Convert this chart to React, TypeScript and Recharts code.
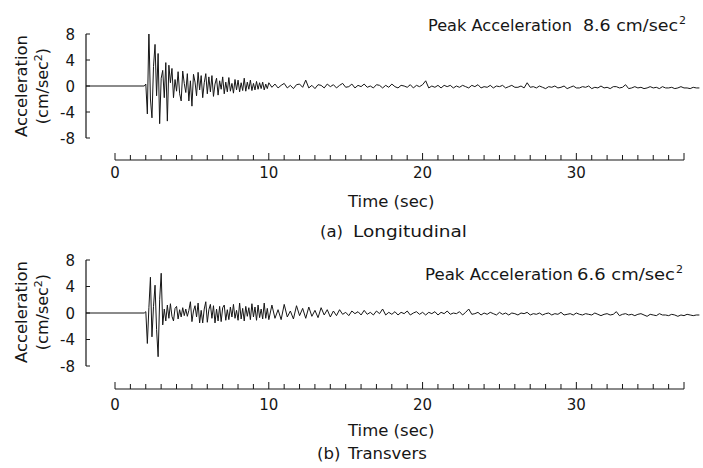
import React from 'react';
import { LineChart, Line, XAxis, YAxis } from 'recharts';

const FONT = '"DejaVu Sans", sans-serif';
const INK = '#161616';

// axis settings
const accelTicks = [-8, -4, 0, 4, 8];
const timeTicks = [0, 1, 2, 3, 4, 5, 6, 7, 8, 9, 10, 11, 12, 13, 14, 15, 16, 17, 18, 19, 20, 21, 22, 23, 24, 25, 26, 27, 28, 29, 30, 31, 32, 33, 34, 35, 36, 37];
const timeLabels = [0, 10, 20, 30];
const traceDomain: [number, number] = [-1.89, 38.04];

// records (cm/sec^2)
const preEventTimes = [-1.89, 1.9];
const preEventValues = [0, 0];
const burstStart = 2.0;
const burstStep = 0.1;
const tailStart = 10.2;
const tailStep = 0.2;

const longBurst = [
  0.3, -4.3, 8.6, -2.0, -4.9, 3.0, 6.4, -1.5, 5.0, -5.8,
  1.2, 2.4, -1.8, 3.6, -5.4, 3.2, 0.5, 2.7, -1.8, 1.0,
  -0.8, 2.2, -1.2, -2.3, 2.3, 0.4, -1.0, 1.9, -2.3, 0.8,
  -3.1, 1.8, 0.6, -1.5, 2.1, -0.6, 1.6, -1.8, 0.5, 1.9,
  -1.2, 1.4, -0.9, 1.6, -1.6, 0.3, 1.2, -1.4, 0.8, -0.5,
  1.4, -1.2, 0.6, -0.9, 1.3, -0.8, 0.4, -1.1, 1.0, -0.6,
  0.9, -0.9, 0.5, -0.7, 1.2, -0.8, 0.6, -0.5, 0.9, -0.7,
  0.4, -0.6, 0.7, -0.5, 0.5, -0.4, 0.6, -0.6, 0.3, -0.4,
  0.5,
];
const longTail = [
  -0.2, 0.3, -0.3, 0.1, 0.4, -0.3, 0.1, -0.4, 0.2, 0.3,
  -0.2, 0.9, -0.3, 0.1, -0.4, 0.2, 0.1, -0.3, 0.3, -0.1,
  0.2, -0.3, 0.1, 0.4, -0.2, -0.1, 0.3, -0.3, 0.1, -0.1,
  0.3, -0.2, 0.0, -0.3, 0.2, 0.1, -0.3, 0.1, -0.2, 0.3,
  -0.1, -0.3, 0.1, 0.0, -0.2, 0.2, -0.3, 0.1, -0.1, 0.2,
  0.8, -0.3, 0.0, -0.2, 0.1, -0.3, 0.1, -0.1, 0.1, -0.3,
  0.0, -0.2, 0.1, -0.1, -0.3, 0.1, -0.1, 0.2, -0.3, -0.1,
  -0.2, 0.1, -0.3, 0.0, -0.1, 0.1, -0.3, -0.1, 0.1, -0.2,
  -0.2, 0.0, -0.3, 0.5, -0.2, -0.1, -0.3, 0.0, -0.2, -0.4,
  -0.1, -0.2, 0.0, -0.3, -0.2, 0.0, -0.4, -0.2, 0.0, -0.3,
  -0.3, -0.1, -0.2, 0.0, -0.4, -0.2, -0.3, 0.0, -0.3, -0.2,
  -0.4, -0.1, -0.1, -0.3, -0.2, 0.2, -0.4, -0.3, -0.1, -0.3,
  -0.2, -0.4, -0.3, -0.1, -0.3, -0.2, -0.4, -0.1, -0.3, -0.3,
  -0.2, -0.4, -0.3, -0.1, -0.3, -0.3, -0.4, -0.2, -0.3, -0.3,
];
const transBurst = [
  0.2, -4.6, 0.8, 5.4, -3.6, 1.0, 4.2, -2.5, -6.6, 2.0,
  6.0, -1.8, 0.6, -1.2, 1.2, -0.8, 1.4, -0.5, -1.2, 0.7,
  1.0, -0.9, 0.5, -0.6, 0.8, -0.4, 0.6, -0.5, 0.4, 1.7,
  -1.3, 0.3, 1.1, -0.6, 1.5, -1.5, 0.4, -1.5, 0.6, 1.7,
  -1.4, 0.5, 1.3, -0.8, 1.1, -1.5, 0.6, -1.2, 1.0, -1.3,
  0.8, 1.2, -1.1, 0.5, -1.0, 0.9, -0.6, 1.3, -0.8, 0.4,
  -1.1, 1.5, -0.9, 0.7, -1.2, 1.0, -0.5, 0.8, -1.0, 1.4,
  -0.6, 0.9, -1.1, 1.2, -0.7, 0.6, -0.9, 1.5, -0.8, 0.7,
  -1.0,
];
const transTail = [
  1.2, -0.8, 0.5, -1.0, 1.3, -0.6, 0.3, -0.9, 1.1, -0.4,
  0.7, -0.8, 0.9, -0.5, 0.4, -0.7, 0.8, -0.3, 0.5, -0.6,
  0.3, -0.4, 0.5, -0.2, 0.1, -0.4, 0.3, -0.1, 0.2, -0.3,
  0.4, -0.2, 0.1, -0.3, 0.3, -0.1, 0.6, -0.3, 0.1, -0.2,
  0.2, -0.3, 0.1, -0.1, 0.3, -0.3, 0.0, 0.2, -0.2, 0.1,
  -0.3, 0.1, -0.1, 0.2, -0.3, 0.1, -0.1, 0.3, -0.2, 0.0,
  -0.1, 0.2, -0.3, 0.1, 0.6, -0.2, -0.1, 0.1, -0.3, 0.0,
  -0.2, 0.1, -0.1, -0.3, 0.1, -0.2, 0.0, -0.3, 0.0, -0.1,
  -0.3, 0.0, -0.1, 0.1, -0.3, -0.1, -0.2, 0.0, -0.3, -0.1,
  0.0, -0.3, -0.1, -0.2, 0.1, -0.3, -0.2, -0.1, -0.3, 0.0,
  -0.2, -0.3, -0.1, -0.2, -0.3, 0.0, -0.2, -0.4, -0.2, -0.1,
  -0.3, -0.2, 0.2, -0.4, -0.2, -0.1, -0.3, -0.2, -0.4, -0.2,
  -0.1, -0.3, -0.5, -0.2, -0.3, -0.4, -0.1, -0.3, -0.3, -0.4,
  -0.2, -0.3, -0.5, -0.3, -0.4, -0.2, -0.3, -0.4, -0.3, -0.3,
];

function buildSeries(burst: number[], tail: number[]) {
  const pts: { t: number; v: number }[] = preEventTimes.map((t, i) => ({ t, v: preEventValues[i] }));
  burst.forEach((v, i) => pts.push({ t: +(burstStart + i * burstStep).toFixed(2), v }));
  tail.forEach((v, i) => pts.push({ t: +(tailStart + i * tailStep).toFixed(2), v }));
  return pts;
}

const longData = buildSeries(longBurst, longTail);
const transData = buildSeries(transBurst, transTail);
const timeAxisData = [
  { t: timeTicks[0], v: 0 },
  { t: timeTicks[timeTicks.length - 1], v: 0 },
];

const AccelTick = (props: any) => {
  const { x, y, payload } = props;
  return (
    <g>
      <line x1={x} x2={x + 4} y1={y} y2={y} stroke={INK} strokeWidth={1} />
      <text x={x - 11} y={y} dy={5.5} textAnchor="end" fontFamily={FONT} fontSize={15} fill={INK}>
        {String(payload.value)}
      </text>
    </g>
  );
};

const makeTimeTick = (labelOffset: number) => (props: any) => {
  const { x, y, payload } = props;
  const v = payload.value as number;
  const major = timeLabels.includes(v) || v === timeTicks[timeTicks.length - 1];
  return (
    <g>
      <line x1={x} x2={x} y1={y} y2={y - (major ? 7 : 5)} stroke={INK} strokeWidth={1} />
      {timeLabels.includes(v) ? (
        <text x={x} y={y + labelOffset} textAnchor="middle" fontFamily={FONT} fontSize={15} fill={INK}>
          {String(v)}
        </text>
      ) : null}
    </g>
  );
};

function Trace({ data, top, plotHeight }: { data: any[]; top: number; plotHeight: number }) {
  const h = 150;
  return (
    <div style={{ position: 'absolute', left: 0, top }}>
      <LineChart width={703} height={h} data={data} margin={{ top: 34, right: 3, bottom: h - 34 - plotHeight, left: 56 }}>
        <XAxis type="number" dataKey="t" domain={traceDomain} hide allowDataOverflow />
        <YAxis
          type="number"
          domain={[-8, 8]}
          ticks={accelTicks}
          interval={0}
          width={30}
          axisLine={{ stroke: INK, strokeWidth: 1.2 }}
          tickLine={false}
          tickSize={0}
          tickMargin={0}
          tick={AccelTick}
          allowDataOverflow
        />
        <Line type="linear" dataKey="v" stroke={INK} strokeWidth={1} dot={false} activeDot={false} isAnimationActive={false} />
      </LineChart>
    </div>
  );
}

function TimeAxis({ top, labelOffset }: { top: number; labelOffset: number }) {
  return (
    <div style={{ position: 'absolute', left: 0, top }}>
      <LineChart width={703} height={50} data={timeAxisData} margin={{ top: 10, right: 19, bottom: 0, left: 115 }}>
        <XAxis
          type="number"
          dataKey="t"
          domain={[timeTicks[0], timeTicks[timeTicks.length - 1]]}
          ticks={timeTicks}
          interval={0}
          height={30}
          axisLine={{ stroke: INK, strokeWidth: 1.2 }}
          tickLine={false}
          tickSize={0}
          tickMargin={0}
          tick={makeTimeTick(labelOffset)}
        />
        <YAxis hide domain={[0, 1]} />
        <Line dataKey="v" stroke="none" dot={false} activeDot={false} isAnimationActive={false} />
      </LineChart>
    </div>
  );
}

function YLabel({ cx, cy }: { cx: number; cy: number }) {
  return (
    <g fontFamily={FONT} fill={INK}>
      <text transform={`translate(${cx - 20},${cy}) rotate(-90)`} textAnchor="middle" fontSize={16.5} textLength={102} lengthAdjust="spacingAndGlyphs">
        Acceleration
      </text>
      <text transform={`translate(${cx + 1},${cy}) rotate(-90)`} textAnchor="middle" fontSize={16}>
        (cm/sec<tspan dy={-6} fontSize={11}>2</tspan><tspan dy={6}>)</tspan>
      </text>
    </g>
  );
}

function PeakText({ y, value, x1, len1, x2, len2 }: { y: number; value: string; x1: number; len1: number; x2: number; len2: number }) {
  return (
    <g fontFamily={FONT} fill={INK} fontSize={16.5}>
      <text x={x1} y={y} textLength={len1} lengthAdjust="spacingAndGlyphs">Peak Acceleration</text>
      <text x={x2} y={y} textLength={len2} lengthAdjust="spacingAndGlyphs">{`${value} cm/sec`}</text>
      <text x={x2 + len2 + 1} y={y - 7} fontSize={11}>2</text>
    </g>
  );
}

export default function App() {
  return (
    <div style={{ position: 'absolute', left: 0, top: 0, width: 703, height: 468, background: '#fff', overflow: 'hidden' }}>
      <Trace data={longData} top={0} plotHeight={104} />
      <TimeAxis top={140} labelOffset={18} />
      <Trace data={transData} top={226} plotHeight={106} />
      <TimeAxis top={369} labelOffset={21} />
      <svg width={703} height={468} style={{ position: 'absolute', left: 0, top: 0, pointerEvents: 'none' }}>
        <YLabel cx={47} cy={86} />
        <YLabel cx={47} cy={312} />
        <PeakText y={31} value="8.6" x1={428} len1={144} x2={583} len2={95} />
        <PeakText y={280} value="6.6" x1={425} len1={148} x2={577} len2={98} />
        <g fontFamily={FONT} fill={INK} fontSize={16.5}>
          <text x={348} y={207}>Time (sec)</text>
          <text x={320} y={237}>(a)</text>
          <text x={353} y={237} textLength={114} lengthAdjust="spacingAndGlyphs">Longitudinal</text>
          <text x={348} y={436}>Time (sec)</text>
          <text x={317} y={459}>(b)</text>
          <text x={348} y={459}>Transvers</text>
        </g>
      </svg>
    </div>
  );
}
